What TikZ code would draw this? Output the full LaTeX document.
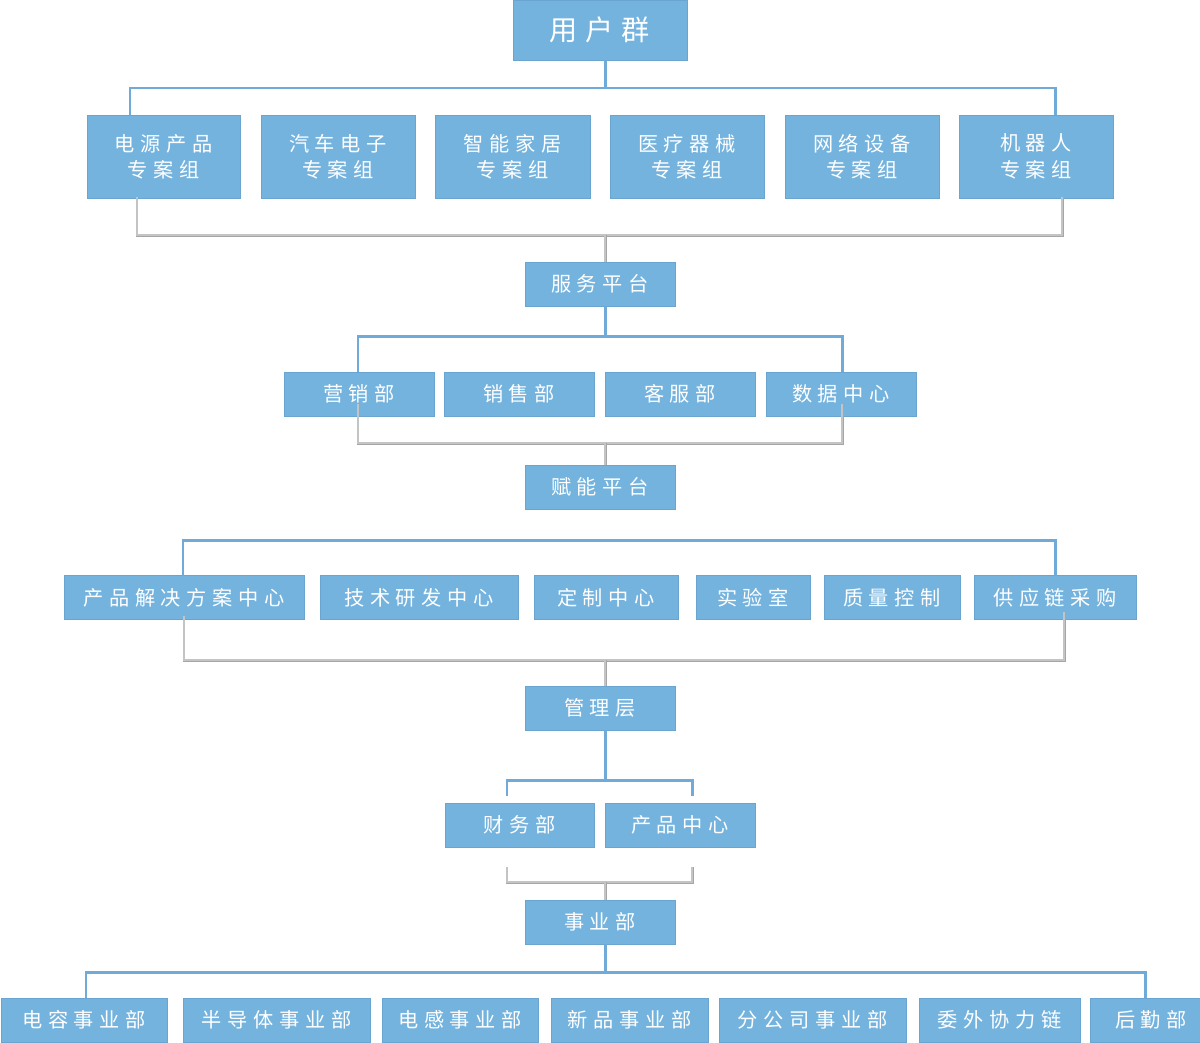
\documentclass[tikz,border=0pt]{standalone}
\usepackage{fontspec}
\newfontfamily\cjk[LetterSpace=28]{Noto Sans CJK SC}

\definecolor{boxblue}{HTML}{74B3DE}
\definecolor{boxedge}{HTML}{6AA5D1}
\definecolor{lineblue}{HTML}{6FAAD9}
\definecolor{linegray}{HTML}{C4C4C4}
\definecolor{grayedge}{HTML}{A6A6A6}

\tikzstyle{box} = [rectangle, minimum height=0.88cm, inner sep=0pt, outer sep=0pt, align=center, text=white, draw=boxedge, line width=0.4pt, fill=boxblue, font=\cjk\fontsize{11.5}{15}\selectfont]
\tikzstyle{topbox} = [box, minimum width=3.48cm, minimum height=1.2cm, font=\cjk\fontsize{16}{18}\selectfont]
\tikzstyle{bline} = [draw=lineblue, line width=1.7pt]
\tikzstyle{gline} = [draw=grayedge, line width=0.35pt, double=linegray, double distance=1pt]

\begin{document}
\begin{tikzpicture}[x=0.02cm, y=-0.02cm]
\useasboundingbox (0,0) rectangle (1200,1042);
% bracket corners
\coordinate (a0) at (605,88);  \coordinate (a1) at (130,88);  \coordinate (a2) at (1055,88);
\coordinate (b0) at (605,235); \coordinate (b1) at (137,235); \coordinate (b2) at (1062,235);
\coordinate (a3) at (605,336); \coordinate (a4) at (358,336); \coordinate (a5) at (842,336);
\coordinate (b3) at (605,443); \coordinate (b4) at (358,443); \coordinate (b5) at (842,443);
\coordinate (a7) at (183,540); \coordinate (a8) at (1055,540);
\coordinate (b6) at (605,660); \coordinate (b7) at (184,660); \coordinate (b8) at (1064,660);
\coordinate (a9) at (605,780); \coordinate (a10) at (507,780); \coordinate (a11) at (692,780);
\coordinate (b9) at (605,882); \coordinate (b10) at (507,882); \coordinate (b11) at (692,882);
\coordinate (a12) at (605,972); \coordinate (a13) at (86,972); \coordinate (a14) at (1145,972);

	\node (u) [topbox] at (600,30) {用户群};
	\node (g1) [box, minimum width=3.06cm, minimum height=1.66cm] at (163.5,156.5) {电源产品\\专案组};
	\node (g2) [box, minimum width=3.08cm, minimum height=1.66cm] at (338,156.5) {汽车电子\\专案组};
	\node (g3) [box, minimum width=3.10cm, minimum height=1.66cm] at (512.5,156.5) {智能家居\\专案组};
	\node (g4) [box, minimum width=3.08cm, minimum height=1.66cm] at (687,156.5) {医疗器械\\专案组};
	\node (g5) [box, minimum width=3.08cm, minimum height=1.66cm] at (862,156.5) {网络设备\\专案组};
	\node (g6) [box, minimum width=3.08cm, minimum height=1.66cm] at (1036,156.5) {机器人\\专案组};
	\node (fw) [box, minimum width=3cm] at (600,284) {服务平台};
	\node (s1) [box, minimum width=3cm] at (359,394) {营销部};
	\node (s2) [box, minimum width=3cm] at (519,394) {销售部};
	\node (s3) [box, minimum width=3cm] at (680,394) {客服部};
	\node (s4) [box, minimum width=3cm] at (841,394) {数据中心};
	\node (fn) [box, minimum width=3cm] at (600,487) {赋能平台};
	\node (c1) [box, minimum width=4.8cm] at (184,597.5) {产品解决方案中心};
	\node (c2) [box, minimum width=3.96cm] at (419,597.5) {技术研发中心};
	\node (c3) [box, minimum width=2.88cm] at (606,597.5) {定制中心};
	\node (c4) [box, minimum width=2.28cm] at (753,597.5) {实验室};
	\node (c5) [box, minimum width=2.72cm] at (892,597.5) {质量控制};
	\node (c6) [box, minimum width=3.24cm] at (1055,597.5) {供应链采购};
	\node (gl) [box, minimum width=3cm] at (600,708) {管理层};
	\node (m1) [box, minimum width=2.98cm] at (519.5,825) {财务部};
	\node (m2) [box, minimum width=3cm] at (680,825) {产品中心};
	\node (sy) [box, minimum width=3cm] at (600,922) {事业部};
	\node (d1) [box, minimum width=3.32cm] at (84,1020) {电容事业部};
	\node (d2) [box, minimum width=3.74cm] at (276.5,1020) {半导体事业部};
	\node (d3) [box, minimum width=3.12cm] at (460,1020) {电感事业部};
	\node (d4) [box, minimum width=3.14cm] at (629.5,1020) {新品事业部};
	\node (d5) [box, minimum width=3.74cm] at (812.5,1020) {分公司事业部};
	\node (d6) [box, minimum width=3.22cm] at (999.5,1020) {委外协力链};
	\node (d7) [box, minimum width=2.44cm] at (1151,1020) {后勤部};

% blue: from above
\draw [bline] (u.south -| a0) -- (a0);
\draw [bline] (g1.north -| a1) -- (a1) -- (a2) -- (g6.north -| a2);
\draw [bline] (fw.south -| a3) -- (a3);
\draw [bline] (s1.north -| a4) -- (a4) -- (a5) -- (s4.north -| a5);
\draw [bline] (c1.north -| a7) -- (a7) -- (a8) -- (c6.north -| a8);
\draw [bline] (gl.south -| a9) -- (a9);
\draw [bline] (a10) ++(0,16) -- (a10) -- (a11) -- ++(0,16);
\draw [bline] (sy.south -| a12) -- (a12);
\draw [bline] (d1.north -| a13) -- (a13) -- (a14) -- (d7.north -| a14);
% gray: to below
\draw [gline] (g1.south -| b1) ++(0,-1) -- (b1) -- (b2) -- (g6.south -| b2) -- ++(0,-1);
\draw [gline] (b0) -- (fw.north -| b0);
\draw [gline] (s1.south -| b4) ++(0,-12) -- (b4) -- (b5) -- (s4.south -| b5) -- ++(0,-12);
\draw [gline] (b3) -- (fn.north -| b3);
\draw [gline] (c1.south -| b7) ++(0,-4) -- (b7) -- (b8) -- (c6.south -| b8) -- ++(0,-8);
\draw [gline] (b6) -- (gl.north -| b6);
\draw [gline] (b10) ++(0,-15) -- (b10) -- (b11) -- ++(0,-15);
\draw [gline] (b9) -- (sy.north -| b9);
\end{tikzpicture}
\end{document}
